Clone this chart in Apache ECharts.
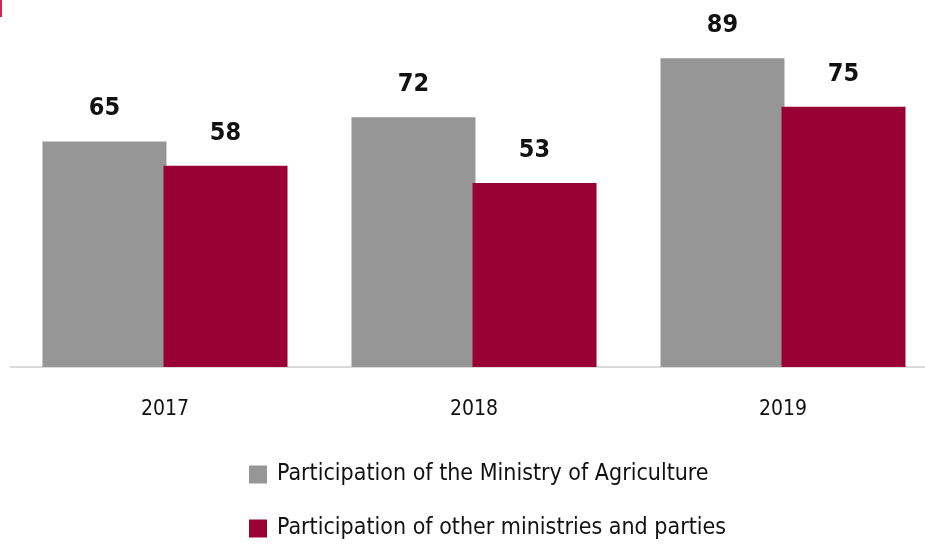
<!DOCTYPE html>
<html>
<head>
<meta charset="utf-8">
<script src="https://cdn.jsdelivr.net/npm/echarts@6/dist/echarts.min.js"></script>
<style>
  html, body { margin: 0; padding: 0; background: #fff; }
  #chart { width: 925px; height: 544px; }
</style>
</head>
<body>
<div id="chart"></div>
<script>
var years = ['2017', '2018', '2019'];
var ministryAgri = [65, 72, 89];
var otherMinistries = [58, 53, 75];
var seriesNames = ['Participation of the Ministry of Agriculture', 'Participation of other ministries and parties'];

var labelFont = '"DejaVu Sans Condensed", "Liberation Sans Narrow", "Roboto", sans-serif';

var chart = echarts.init(document.getElementById('chart'));
var barLabel = {
    show: true,
    position: 'top',
    distance: 20,
    color: '#111',
    fontFamily: labelFont,
    fontWeight: 'bold',
    fontSize: 25
};
var option = {
    animation: false,
    grid: { left: 10.5, width: 927, top: 20, bottom: 177, outerBoundsMode: 'none' },
    graphic: [{
        type: 'rect',
        shape: { x: 0, y: 0, width: 2, height: 17 },
        style: { fill: '#d9234f' }
    }],
    legend: {
        orient: 'vertical',
        left: 244,
        top: 458,
        height: 120,
        itemWidth: 18,
        itemHeight: 18,
        itemGap: 31,
        icon: 'rect',
        data: seriesNames,
        textStyle: { fontFamily: labelFont, fontSize: 23, color: '#111', padding: [0, 0, 0, 5] }
    },
    xAxis: {
        type: 'category',
        data: years,
        axisLine: { lineStyle: { color: '#d9d9d9', width: 2 } },
        axisTick: { show: false },
        axisLabel: { margin: 32, color: '#111', fontFamily: labelFont, fontSize: 21 }
    },
    yAxis: {
        type: 'value',
        min: 0,
        max: 100,
        show: false,
        splitLine: { show: false }
    },
    series: [{
        name: seriesNames[0],
        type: 'bar',
        data: ministryAgri,
        barWidth: 124,
        barGap: '-2.4%',
        itemStyle: { color: '#969696' },
        label: barLabel
    }, {
        name: seriesNames[1],
        type: 'bar',
        data: otherMinistries,
        barWidth: 124,
        itemStyle: { color: '#990033' },
        label: barLabel
    }]
};
chart.setOption(option);
</script>
</body>
</html>
